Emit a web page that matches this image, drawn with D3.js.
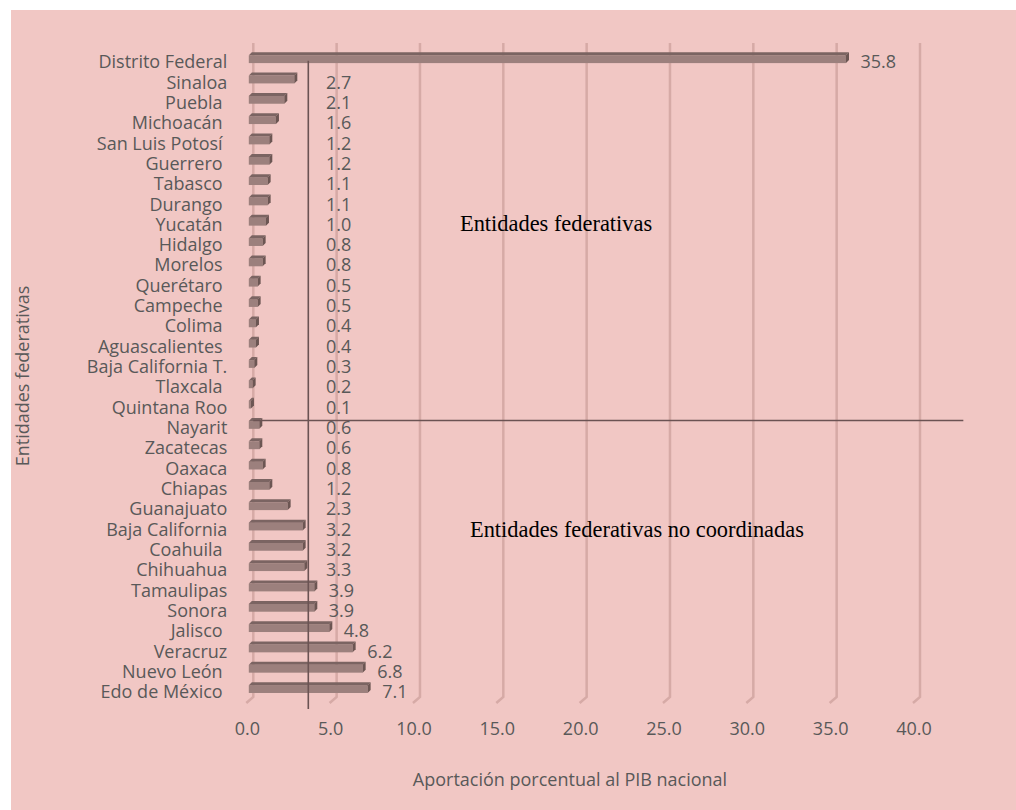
<!DOCTYPE html>
<html>
<head>
<meta charset="utf-8">
<script src="https://cdn.jsdelivr.net/npm/d3@7/dist/d3.min.js"></script>
<style>
  html, body { margin: 0; padding: 0; background: #ffffff; }
  svg { display: block; }
</style>
</head>
<body>
<svg id="chart" width="1016" height="810"></svg>
<script>
// ---- data ----
const categories = [
  "Distrito Federal", "Sinaloa", "Puebla ", "Michoacán ", "San Luis Potosí ",
  "Guerrero ", "Tabasco ", "Durango ", "Yucatán ", "Hidalgo ", "Morelos ",
  "Querétaro ", "Campeche ", "Colima ", "Aguascalientes ", "Baja California T.",
  "Tlaxcala ", "Quintana Roo", "Nayarit", "Zacatecas", "Oaxaca", "Chiapas",
  "Guanajuato", "Baja California", "Coahuila ", "Chihuahua", "Tamaulipas",
  "Sonora", "Jalisco ", "Veracruz", "Nuevo León ", "Edo de México "
];
const values = [
  35.8, 2.7, 2.1, 1.6, 1.2, 1.2, 1.1, 1.1, 1.0, 0.8, 0.8, 0.5, 0.5, 0.4, 0.4, 0.3,
  0.2, 0.1, 0.6, 0.6, 0.8, 1.2, 2.3, 3.2, 3.2, 3.3, 3.9, 3.9, 4.8, 6.2, 6.8, 7.1
];
const xTicks = [0, 5, 10, 15, 20, 25, 30, 35, 40];
const xAxisTitle = "Aportación porcentual al PIB nacional";
const yAxisTitle = "Entidades federativas";
const annotations = ["Entidades federativas", "Entidades federativas no coordinadas"];
const referenceValue = 3.3;          // vertical reference line
const separatorBefore = "Nayarit";   // horizontal separator line sits above this row
const separatorEndValue = 42.6;

// ---- layout ----
const svg = d3.select("#chart");
const W = 1016, H = 810;
const textColor = "#595959";
const font = "'Open Sans', sans-serif";

svg.append("rect").attr("x", 11).attr("y", 10).attr("width", W - 11).attr("height", H - 10)
  .attr("fill", "#f1c7c4");

const x = d3.scaleLinear().domain([0, 40]).range([253.3, 920]);
const y = d3.scaleBand().domain(categories).range([48.8, 699]).padding(0);

// gridlines (3D style with floor slant)
const gridTop = 43, gridBottom = 697;
svg.append("g").selectAll("path").data(xTicks).join("path")
  .attr("d", t => `M${x(t)},${gridTop}L${x(t)},${gridBottom}L${x(t) - 7},${gridBottom + 6}`)
  .attr("fill", "none")
  .attr("stroke", "#d6aaa6")
  .attr("stroke-width", 2.5);

// tick labels
svg.append("g").selectAll("text").data(xTicks).join("text")
  .attr("x", t => x(t) - 6)
  .attr("y", 735)
  .attr("text-anchor", "middle")
  .attr("font-family", font).attr("font-size", 18).attr("fill", textColor)
  .text(d3.format(".1f"));

// bars (3D look)
const rows = categories.map((c, i) => ({ c, v: values[i] }));
const frontTop = 6.5, frontBot = 14.3, depthX = 3, depthY = 3;
const gBars = svg.append("g");
rows.forEach(d => {
  const bt = y(d.c);
  const x0 = x(0) - 4.5, x1 = Math.max(x(d.v) - 4, x0 + 0.5);
  const ft = bt + frontTop, fb = bt + frontBot;
  gBars.append("rect").attr("x", x0).attr("y", ft).attr("width", x1 - x0).attr("height", fb - ft)
    .attr("fill", "#9c807d");
  gBars.append("path")
    .attr("d", `M${x0},${ft}L${x0 + depthX},${ft - depthY}L${x1 + depthX},${ft - depthY}L${x1},${ft}Z`)
    .attr("fill", "#7b6462");
  gBars.append("path")
    .attr("d", `M${x1},${ft}L${x1 + depthX},${ft - depthY}L${x1 + depthX},${fb - depthY}L${x1},${fb}Z`)
    .attr("fill", "#6c5653");
});

// category labels
svg.append("g").selectAll("text").data(rows).join("text")
  .attr("x", x(0) - 26)
  .attr("y", d => y(d.c) + 19.5)
  .attr("text-anchor", "end")
  .style("white-space", "pre")
  .attr("font-family", font).attr("font-size", 18).attr("fill", textColor)
  .text(d => d.c);

// value labels
svg.append("g").selectAll("text").data(rows).join("text")
  .attr("x", d => Math.max(x(d.v) + 10.5, 326))
  .attr("y", d => y(d.c) + 19.5)
  .attr("text-anchor", "start")
  .attr("font-family", font).attr("font-size", 18).attr("fill", textColor)
  .text(d => d3.format(".1f")(d.v));

// reference lines
svg.append("line")
  .attr("x1", x(referenceValue)).attr("x2", x(referenceValue))
  .attr("y1", y(categories[0]) + 12).attr("y2", y.range()[1] + 10)
  .attr("stroke", "#6b5353").attr("stroke-width", 1.6);
svg.append("line")
  .attr("x1", x(0)).attr("x2", x(separatorEndValue))
  .attr("y1", y(separatorBefore) + 6).attr("y2", y(separatorBefore) + 6)
  .attr("stroke", "#6b5353").attr("stroke-width", 1.6);

// annotations
svg.append("text").attr("x", 460).attr("y", 231)
  .attr("font-family", "'Liberation Serif', 'Times New Roman', serif").attr("font-size", 22.4)
  .attr("fill", "#000").text(annotations[0]);
svg.append("text").attr("x", 470).attr("y", 537)
  .attr("font-family", "'Liberation Serif', 'Times New Roman', serif").attr("font-size", 22.4)
  .attr("fill", "#000").text(annotations[1]);

// axis titles
svg.append("text").attr("x", 570).attr("y", 786).attr("text-anchor", "middle")
  .attr("font-family", font).attr("font-size", 18).attr("fill", textColor)
  .text(xAxisTitle);
svg.append("text")
  .attr("transform", "translate(28.5,376) rotate(-90)")
  .attr("text-anchor", "middle")
  .attr("font-family", font).attr("font-size", 18).attr("fill", textColor)
  .text(yAxisTitle);
</script>
</body>
</html>
